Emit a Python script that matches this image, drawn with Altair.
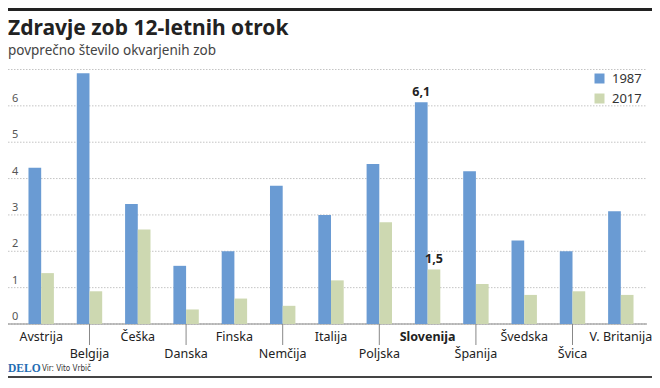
import altair as alt
import pandas as pd

countries = ["Avstrija", "Belgija", "Češka", "Danska", "Finska", "Nemčija", "Italija",
             "Poljska", "Slovenija", "Španija", "Švedska", "Švica", "V. Britanija"]
v1987 = [4.3, 6.9, 3.3, 1.6, 2.0, 3.8, 3.0, 4.4, 6.1, 4.2, 2.3, 2.0, 3.1]
v2017 = [1.4, 0.9, 2.6, 0.4, 0.7, 0.5, 1.2, 2.8, 1.5, 1.1, 0.8, 0.9, 0.8]
years = ["1987", "2017"]
y_ticks = [0, 1, 2, 3, 4, 5, 6, 7]
y_labels = [0, 1, 2, 3, 4, 5, 6]
annot_country = ["Slovenija", "Slovenija"]
annot_year = ["1987", "2017"]
annot_value = [6.1, 1.5]
annot_text = ["6,1", "1,5"]

title = "Zdravje zob 12-letnih otrok"
subtitle = "povprečno število okvarjenih zob"
source = "Vir: Vito Vrbič"

BLUE = "#6a9bd3"
GREEN = "#cdd8b1"
FONT = "Noto Sans"

rows = []
for i, c in enumerate(countries):
    rows.append({"country": c, "year": "1987", "value": v1987[i]})
    rows.append({"country": c, "year": "2017", "value": v2017[i]})
bars_df = pd.DataFrame(rows)
cdf = pd.DataFrame({"country": countries, "idx": list(range(len(countries)))})
grid_df = pd.DataFrame({"value": y_ticks})
ylab_df = pd.DataFrame({"value": y_labels, "lab": [str(v) for v in y_labels]})
ann_df = pd.DataFrame({"country": annot_country, "year": annot_year,
                       "value": annot_value, "t": annot_text})

xsc = alt.Scale(domain=countries, range=[0, 646], paddingInner=0.474, paddingOuter=0.424)
ysc = alt.Scale(domain=[0, 7], range=[316, 61.5], nice=False, zero=True)
xo = alt.XOffset("year:N", scale=alt.Scale(domain=years, paddingInner=0, paddingOuter=0))

X = alt.X("country:N", scale=xsc, axis=None, sort=countries)
Y = alt.Y("value:Q", scale=ysc, axis=None)

grid = alt.Chart(grid_df).mark_rule(color="#c4c4c4", strokeDash=[1.5, 1.5], strokeWidth=1).encode(
    y=Y, x=alt.value(0), x2=alt.value(639))

ylab = alt.Chart(ylab_df).mark_text(align="left", baseline="middle", dy=-7, fontSize=11,
                                     color="#555555", font=FONT).encode(
    y=Y, x=alt.value(4), text="lab:N")

bars = alt.Chart(bars_df).mark_bar(stroke=None).encode(
    x=X, xOffset=xo, y=Y,
    color=alt.Color("year:N", scale=alt.Scale(domain=years, range=[BLUE, GREEN]),
                    legend=alt.Legend(orient="none", legendX=585, legendY=64, title=None,
                                      symbolType="square", symbolSize=100,
                                      symbolStrokeWidth=0, labelFontSize=13,
                                      labelFont=FONT, labelColor="#333333",
                                      rowPadding=6, labelOffset=6)))

baseline = alt.Chart(grid_df).transform_filter("datum.value == 0").mark_rule(
    color="#888888", strokeWidth=1).encode(y=Y, x=alt.value(0), x2=alt.value(639))

ann = alt.Chart(ann_df).mark_text(baseline="bottom", dy=-3, fontSize=12.5, fontWeight="bold",
                                  color="#222222", font=FONT).encode(
    x=X, xOffset=xo, y=Y, text="t:N")

lab_even = alt.Chart(cdf).transform_filter(
    "datum.idx % 2 == 0 && datum.country != 'Slovenija'").mark_text(
    baseline="middle", fontSize=12.5, color="#222222", font=FONT).encode(
    x=X, y=alt.value(329), text="country:N")

lab_bold = alt.Chart(cdf).transform_filter("datum.country == 'Slovenija'").mark_text(
    baseline="middle", fontSize=12.5, fontWeight="bold", color="#222222", font=FONT).encode(
    x=X, y=alt.value(329), text="country:N")

lab_odd = alt.Chart(cdf).transform_filter("datum.idx % 2 == 1").mark_text(
    baseline="middle", fontSize=12.5, color="#222222", font=FONT).encode(
    x=X, y=alt.value(346), text="country:N")

ticks = alt.Chart(cdf).transform_filter("datum.idx % 2 == 1").mark_rule(
    color="#888888", strokeWidth=1).encode(x=X, y=alt.value(316), y2=alt.value(337))

meta_df = pd.DataFrame({"k": [0]})
topbar = alt.Chart(meta_df).mark_rect(color="#222222").encode(
    x=alt.value(0), x2=alt.value(644), y=alt.value(0), y2=alt.value(3))
botline = alt.Chart(meta_df).mark_rule(color="#444444", strokeWidth=2).encode(
    x=alt.value(0), x2=alt.value(644), y=alt.value(369))

title_t = alt.Chart(meta_df).mark_text(align="left", baseline="alphabetic", fontSize=21,
                                       fontWeight="bold", color="#222222", font=FONT).encode(
    x=alt.value(0), y=alt.value(27), text=alt.value(title))
sub_t = alt.Chart(meta_df).mark_text(align="left", baseline="middle", fontSize=13.5,
                                     color="#444444", font=FONT).encode(
    x=alt.value(0), y=alt.value(43), text=alt.value(subtitle))
delo_t = alt.Chart(meta_df).mark_text(align="left", baseline="middle", fontSize=11.5,
                                      fontWeight="bold", color="#1f6db3",
                                      font="Liberation Serif").encode(
    x=alt.value(0), y=alt.value(361), text=alt.value("DELO"))
src_t = alt.Chart(meta_df).mark_text(align="left", baseline="middle", fontSize=8,
                                     color="#333333", font="DejaVu Sans Condensed").encode(
    x=alt.value(34), y=alt.value(361), text=alt.value(source))

chart = alt.layer(grid, baseline, ylab, bars, ann, ticks, lab_even, lab_bold, lab_odd,
                  topbar, botline, title_t, sub_t, delo_t, src_t).properties(
    width=644, height=372, padding=0, autosize=alt.AutoSizeParams(type="none"),
    background="white"
).configure_view(stroke=None)

chart.save("out.html", embed_options={"renderer": "svg", "actions": False})
